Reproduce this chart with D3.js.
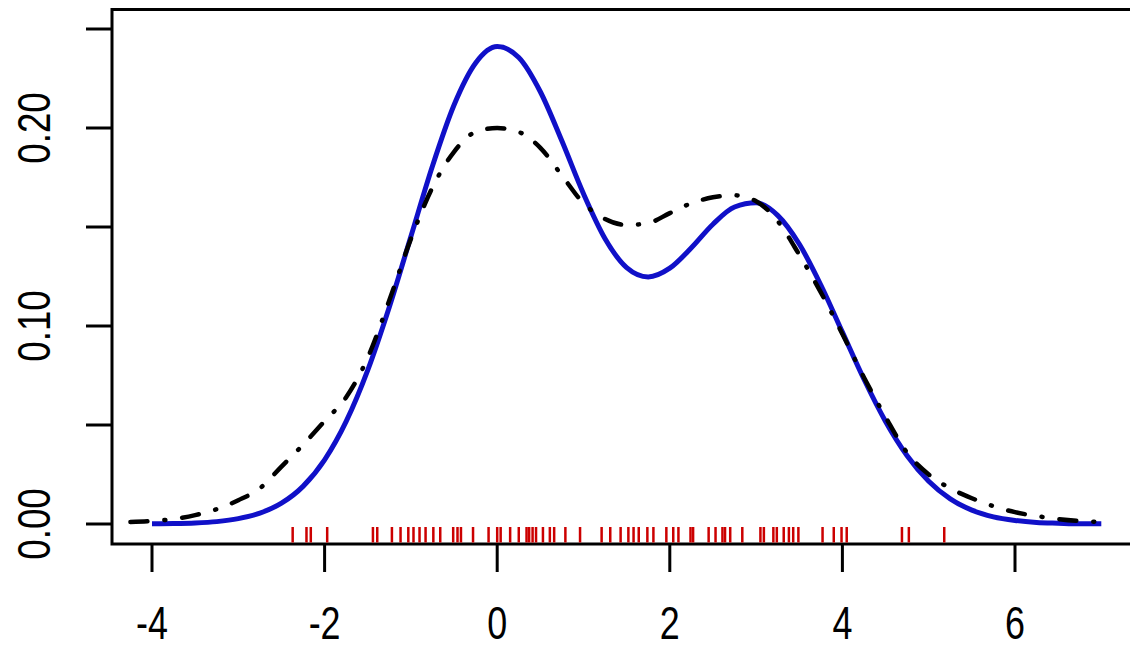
<!DOCTYPE html>
<html>
<head>
<meta charset="utf-8">
<script src="https://cdn.jsdelivr.net/npm/d3@7"></script>
<style>
  body { margin: 0; background: #fff; }
  svg text { font-family: "Liberation Sans", Arial, sans-serif; fill: #000; }
</style>
</head>
<body>
<svg id="chart" width="1130" height="649"></svg>
<script>
// true mixture density (blue) at steps of 0.25
const trueX = d3.range(-4, 7.001, 0.25);
const trueY = [0.0001, 0.0002, 0.0005, 0.0012, 0.0027, 0.0055, 0.0105, 0.0190,
    0.0324, 0.0518, 0.0777, 0.1096, 0.1452, 0.1808, 0.2116, 0.2328, 0.2411,
    0.2356, 0.2183, 0.1934, 0.1668, 0.1441, 0.1295, 0.1248, 0.1292, 0.1395,
    0.1514, 0.1601, 0.1622, 0.1559, 0.1414, 0.1207, 0.0969, 0.0731, 0.0518,
    0.0345, 0.0216, 0.0127, 0.0070, 0.0036, 0.0018, 0.0008, 0.0004, 0.0001, 0.0001];

// kernel estimate (black dot-dash)
const kdeX = d3.range(-4.25, 7.001, 0.25);
const kdeY = [0.001, 0.0015, 0.0025, 0.0045, 0.0075, 0.012, 0.018, 0.029, 0.040,
    0.052, 0.064, 0.084, 0.113, 0.144, 0.170, 0.188, 0.198, 0.200, 0.198, 0.190,
    0.176, 0.162, 0.154, 0.151, 0.152, 0.157, 0.162, 0.165, 0.166, 0.163, 0.153,
    0.136, 0.117, 0.096, 0.074, 0.054, 0.036, 0.025, 0.018, 0.013, 0.009, 0.006,
    0.004, 0.0025, 0.0015, 0.001];

// sample values shown as the rug
const rugValues = [-2.37, -2.21, -2.16, -1.97, -1.44, -1.39, -1.22, -1.12, -1.03,
    -0.97, -0.90, -0.83, -0.74, -0.66, -0.51, -0.46, -0.42, -0.28, -0.10, 0.00,
    0.04, 0.15, 0.25, 0.34, 0.37, 0.41, 0.45, 0.53, 0.61, 0.66, 0.79, 0.96, 1.21,
    1.31, 1.43, 1.52, 1.58, 1.64, 1.74, 1.81, 1.96, 2.04, 2.10, 2.24, 2.27, 2.45,
    2.53, 2.61, 2.64, 2.70, 2.84, 3.05, 3.09, 3.20, 3.24, 3.32, 3.38, 3.43, 3.49,
    3.77, 3.90, 3.99, 4.05, 4.69, 4.77, 5.18];

const xTicks = [-4, -2, 0, 2, 4, 6];
const yTicks = [0, 0.05, 0.10, 0.15, 0.20, 0.25];
const yLabels = [0, 0.10, 0.20];

const svg = d3.select("#chart");

const x = d3.scaleLinear().domain([-4, 6]).range([152, 1015]);
const y = d3.scaleLinear().domain([0, 0.25]).range([524, 29]);

// plot box (right edge falls outside the picture)
const box = { left: 112, top: 9.5, right: 1140, bottom: 544 };
svg.append("rect")
    .attr("x", box.left).attr("y", box.top)
    .attr("width", box.right - box.left).attr("height", box.bottom - box.top)
    .attr("fill", "none").attr("stroke", "#000").attr("stroke-width", 3);

// x axis
const xAxis = svg.append("g");
xAxis.selectAll("line").data(xTicks).join("line")
    .attr("x1", d => x(d)).attr("x2", d => x(d))
    .attr("y1", box.bottom).attr("y2", 572)
    .attr("stroke", "#000").attr("stroke-width", 3);
xAxis.selectAll("text").data(xTicks).join("text")
    .attr("transform", d => `translate(${x(d)},639) scale(0.78,1)`)
    .attr("text-anchor", "middle")
    .style("font-size", "46px")
    .text(d => d);

// y axis
const yAxis = svg.append("g");
yAxis.selectAll("line").data(yTicks).join("line")
    .attr("x1", 86).attr("x2", box.left)
    .attr("y1", d => y(d)).attr("y2", d => y(d))
    .attr("stroke", "#000").attr("stroke-width", 3);
yAxis.selectAll("text").data(yLabels).join("text")
    .attr("transform", d => `translate(50,${y(d)}) rotate(-90) scale(0.78,1)`)
    .attr("text-anchor", "middle")
    .style("font-size", "47px")
    .text(d => d3.format(".2f")(d));

const line = d3.line()
    .x(d => x(d[0]))
    .y(d => y(d[1]))
    .curve(d3.curveMonotoneX);

svg.append("path")
    .datum(d3.zip(trueX, trueY))
    .attr("d", line)
    .attr("fill", "none")
    .attr("stroke", "#1010c8")
    .attr("stroke-width", 5)
    .attr("stroke-linejoin", "round");

svg.append("path")
    .datum(d3.zip(kdeX, kdeY))
    .attr("d", line)
    .attr("fill", "none")
    .attr("stroke", "#000")
    .attr("stroke-width", 4.5)
    .attr("stroke-linecap", "round")
    .attr("stroke-dasharray", "17,17,1,17");

// rug
svg.append("g").selectAll("line").data(rugValues).join("line")
    .attr("x1", d => x(d)).attr("x2", d => x(d))
    .attr("y1", box.bottom - 1.5).attr("y2", 527)
    .attr("stroke", "#cc0000").attr("stroke-width", 2.5);
</script>
</body>
</html>
